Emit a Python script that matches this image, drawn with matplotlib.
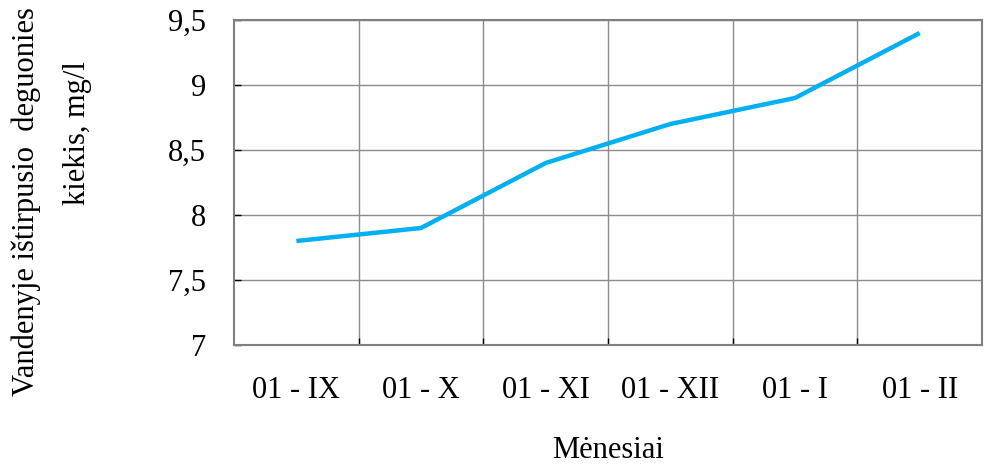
import matplotlib
matplotlib.use("Agg")
import matplotlib.pyplot as plt
from matplotlib.ticker import FixedLocator, FuncFormatter

months = ["01 - IX", "01 - X", "01 - XI", "01 - XII", "01 - I", "01 - II"]
oxygen = [7.8, 7.9, 8.4, 8.7, 8.9, 9.4]
y_ticks = [7, 7.5, 8, 8.5, 9, 9.5]

plt.rcParams["font.family"] = ["Liberation Serif", "DejaVu Serif"]

fig = plt.figure(figsize=(9.85, 4.65), dpi=100)
ax = fig.add_axes([234 / 985, 120 / 465, 748 / 985, 325 / 465])

x = list(range(len(months)))
ax.plot(x, oxygen, color="#00B0F0", linewidth=3.2, solid_capstyle="butt",
        solid_joinstyle="miter", zorder=3)

ax.set_xlim(-0.5, len(months) - 0.5)
ax.set_ylim(y_ticks[0], y_ticks[-1])

# category boundaries carry the grid, centres carry the labels
ax.xaxis.set_major_locator(FixedLocator([i + 0.5 for i in range(len(months) - 1)]))
ax.xaxis.set_major_formatter(FuncFormatter(lambda v, p: ""))
ax.xaxis.set_minor_locator(FixedLocator(x))
ax.set_xticklabels(months, minor=True)
ax.tick_params(axis="x", which="minor", length=0, pad=22, labelsize=22)
ax.tick_params(axis="x", which="major", direction="in", length=5, width=1, color="black")

ax.yaxis.set_major_locator(FixedLocator(y_ticks))
ax.yaxis.set_major_formatter(FuncFormatter(lambda v, p: f"{v:g}".replace(".", ",")))
ax.tick_params(axis="y", direction="in", length=5, width=1, color="black",
               pad=20, labelsize=22)

ax.grid(True, which="major", color="#8c8c8c", linewidth=1)
ax.set_axisbelow(True)
for side, sp in ax.spines.items():
    sp.set_color("#7f7f7f")
    sp.set_linewidth(1.5)

fig.text(608 / 985, 1 - 450 / 465, "Mėnesiai", ha="center", va="center", fontsize=22)
fig.text(26 / 985, 1 - 202 / 465, "Vandenyje ištirpusio  deguonies", rotation=90,
         ha="center", va="center", fontsize=22)
fig.text(77 / 985, 1 - 133 / 465, "kiekis, mg/l", rotation=90,
         ha="center", va="center", fontsize=22)

fig.savefig("out.png", dpi=100)
